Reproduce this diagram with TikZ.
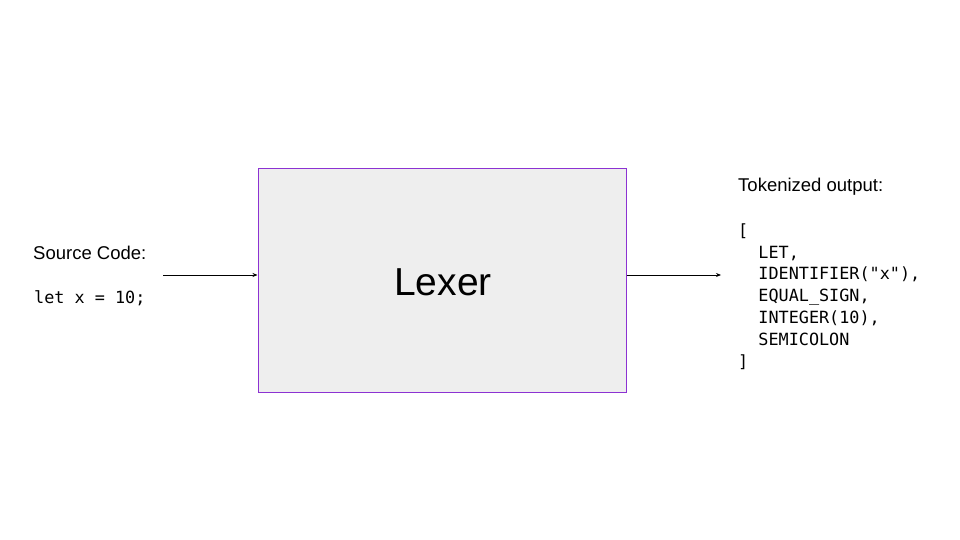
\documentclass[tikz,border=0pt]{standalone}
\usepackage{fontspec}
\setmainfont{Liberation Sans}
\newfontfamily\codefont{DejaVu Sans Mono}
\usetikzlibrary{arrows.meta}
\definecolor{boxfill}{RGB}{238,238,238}
\definecolor{boxedge}{RGB}{140,50,210}
\tikzset{
  plain/.style={inner sep=0pt, anchor=base west, font=\fontsize{18.5}{22}\selectfont},
  code/.style={inner sep=0pt, anchor=base west, align=left, font=\codefont\fontsize{16.8}{21.8}\selectfont},
  conn/.style={line width=0.8pt, -{Stealth[length=5pt,width=4pt]}}
}
\begin{document}
\begin{tikzpicture}[x=1pt,y=-1pt]
\useasboundingbox[fill=white] (0,0) rectangle (960,540);
\node[draw=boxedge, fill=boxfill, line width=1pt, minimum width=368pt, minimum height=223pt, inner sep=0pt] (lexer) at (442,280.5) {};
\node[inner sep=0pt, font=\fontsize{39}{44}\selectfont] (lexlabel) at (443,282) {Lexer};
\node[plain] (srclabel) at (33,259) {Source Code:};
\node[code] (srccode) at (34,303) {let x = 10;};
\node[plain] (outlabel) at (738,191) {Tokenized output:};
\node[code] (outcode) at (738,367) {[\\
\hphantom{xx}LET,\\
\hphantom{xx}IDENTIFIER("x"),\\
\hphantom{xx}EQUAL\_SIGN,\\
\hphantom{xx}INTEGER(10),\\
\hphantom{xx}SEMICOLON\\
]};
\coordinate (inStart) at (163,275);
\coordinate (outEnd) at (721,275);
\draw[conn] (inStart) -- (inStart -| lexer.west);
\draw[conn] (outEnd -| lexer.east) -- (outEnd);
\end{tikzpicture}
\end{document}
